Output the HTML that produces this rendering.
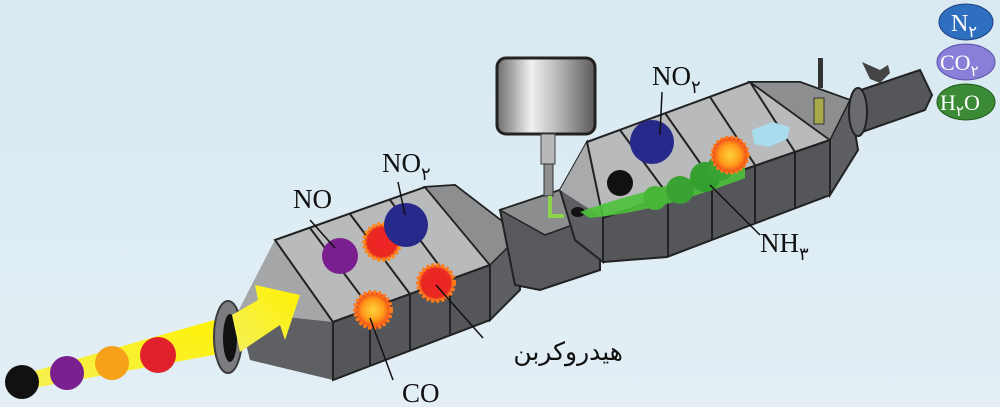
<!DOCTYPE html>
<html><head><meta charset="utf-8"><style>
html,body{margin:0;padding:0;width:1000px;height:407px;overflow:hidden;background:#dcebf3}
svg{display:block}
text{font-family:"Liberation Serif","Noto Serif CJK SC",serif;fill:#111}
</style></head><body>
<svg width="1000" height="407" viewBox="0 0 1000 407" xmlns="http://www.w3.org/2000/svg">
<defs>
<linearGradient id="bg" x1="0" y1="0" x2="0" y2="1"><stop offset="0" stop-color="#d8e9f2"/><stop offset="1" stop-color="#e3eff5"/></linearGradient>
<linearGradient id="tank" x1="0" y1="0" x2="1" y2="0"><stop offset="0" stop-color="#6e6e6e"/><stop offset="0.35" stop-color="#f0f0f0"/><stop offset="0.6" stop-color="#bdbdbd"/><stop offset="1" stop-color="#5a5a5a"/></linearGradient>
<linearGradient id="yel" x1="0" y1="1" x2="1" y2="0"><stop offset="0" stop-color="#f4ef5a"/><stop offset="1" stop-color="#fff200"/></linearGradient>
<radialGradient id="fire"><stop offset="0" stop-color="#ffd33a"/><stop offset="0.6" stop-color="#ff9a1a"/><stop offset="1" stop-color="#f0401a"/></radialGradient>
<radialGradient id="redf"><stop offset="0" stop-color="#f0202a"/><stop offset="0.8" stop-color="#e82a20"/><stop offset="1" stop-color="#ff7a20"/></radialGradient>
</defs>
<rect width="1000" height="407" fill="url(#bg)"/>

<polygon points="10,378 12,392 230,352 232,315" fill="url(#yel)"/>
<circle cx="22" cy="382" r="17" fill="#111"/>
<circle cx="67" cy="373" r="17" fill="#7a1f8e"/>
<circle cx="112" cy="363" r="17" fill="#f5a21a"/>
<circle cx="158" cy="355" r="18" fill="#e0202a"/>

<polygon points="238,312 275,240 333,322 333,380 250,360" fill="#5f6063"/>
<polygon points="238,312 275,240 333,322" fill="#a5a6a8"/>
<ellipse cx="228" cy="337" rx="14" ry="36" fill="#7b7c7f" stroke="#3c3c3e" stroke-width="2"/>
<ellipse cx="230" cy="338" rx="7" ry="24" fill="#111"/>
<polygon points="275,240 425,187 490,265 333,322" fill="#b9babc" stroke="#222" stroke-width="2"/>
<polygon points="333,322 490,265 490,320 333,380" fill="#55565a" stroke="#222" stroke-width="2"/>
<g stroke="#222" stroke-width="2">
<line x1="310" y1="228" x2="370" y2="308"/><line x1="350" y1="214" x2="410" y2="294"/><line x1="390" y1="200" x2="450" y2="280"/>
<line x1="370" y1="308" x2="370" y2="366"/><line x1="410" y1="294" x2="410" y2="351"/><line x1="450" y1="280" x2="450" y2="336"/>
</g>
<polygon points="425,187 455,185 520,235 520,290 490,320 490,265" fill="#5e5f62" stroke="#222" stroke-width="2"/>
<polygon points="425,187 455,185 520,235 490,265" fill="#8d8e90" stroke="#222" stroke-width="1.5"/>

<polygon points="500,210 560,190 600,215 600,270 540,290 515,285" fill="#58595c" stroke="#222" stroke-width="2"/>
<polygon points="500,210 560,190 600,215 545,235" fill="#8c8d8f" stroke="#222" stroke-width="1.5"/>

<polygon points="560,190 587,142 603,218 603,262 575,240" fill="#5e5f62" stroke="#222" stroke-width="2"/>
<polygon points="560,190 587,142 603,218" fill="#a9aaac"/>
<polygon points="587,142 750,82 830,140 603,218" fill="#b9babc" stroke="#222" stroke-width="2"/>
<polygon points="603,218 830,140 830,195 667,257 603,262" fill="#55565a" stroke="#222" stroke-width="2"/>
<g stroke="#222" stroke-width="2">
<line x1="620" y1="130" x2="668" y2="195"/><line x1="665" y1="113" x2="712" y2="180"/><line x1="710" y1="97" x2="755" y2="165"/><line x1="750" y1="82" x2="795" y2="152"/>
<line x1="668" y1="195" x2="668" y2="257"/><line x1="712" y1="180" x2="712" y2="240"/><line x1="755" y1="165" x2="755" y2="224"/><line x1="795" y1="152" x2="795" y2="208"/>
</g>
<polygon points="750,82 800,82 850,100 858,150 830,195 830,140" fill="#5e5f62" stroke="#222" stroke-width="2"/>
<polygon points="750,82 800,82 850,100 830,140" fill="#8d8e90" stroke="#222" stroke-width="1.5"/>
<polygon points="855,92 920,70 932,95 925,110 862,132" fill="#55565a" stroke="#222" stroke-width="2"/>
<ellipse cx="858" cy="112" rx="9" ry="24" fill="#6a6b6e" stroke="#222" stroke-width="2"/>
<rect x="818" y="58" width="5" height="30" fill="#333"/>
<rect x="814" y="98" width="10" height="26" fill="#a6a84a" stroke="#333"/>
<path d="M862,62 l18,8 l8,-5 l2,8 l-10,10 l-10,-4z" fill="#444"/>

<rect x="497" y="58" width="98" height="76" rx="9" fill="url(#tank)" stroke="#222" stroke-width="3"/>
<rect x="541" y="134" width="14" height="30" fill="#b8b8b8" stroke="#444"/>
<rect x="544" y="164" width="9" height="32" fill="#8f8f8f" stroke="#333"/>
<path d="M550,196 v20 h14" fill="none" stroke="#8ed44a" stroke-width="4"/>
<ellipse cx="578" cy="212" rx="7" ry="5" fill="#111"/>

<path d="M580,212 C610,200 650,192 700,175 L745,155 L745,178 C700,195 650,212 590,218z" fill="#4cc23a" opacity="0.9"/>
<circle cx="655" cy="198" r="12" fill="#49b63a"/><circle cx="680" cy="190" r="14" fill="#3aa232"/><circle cx="705" cy="177" r="15" fill="#34a030"/><circle cx="720" cy="168" r="13" fill="#3aa232"/>
<circle cx="652" cy="142" r="22" fill="#272a8a"/>
<circle cx="620" cy="183" r="13" fill="#111"/>
<circle cx="730" cy="155" r="18" fill="url(#fire)" stroke="#ff7a1a" stroke-width="3" stroke-dasharray="3 2"/>
<path d="M752,130 l20,-8 l18,5 l-3,12 l-18,8 l-15,-3z" fill="#a9dcec"/>

<circle cx="340" cy="256" r="18" fill="#7a1f8e"/>
<circle cx="382" cy="242" r="18" fill="url(#redf)" stroke="#ff8a1a" stroke-width="4" stroke-dasharray="3 2"/>
<circle cx="406" cy="225" r="22" fill="#272a8a"/>
<circle cx="436" cy="283" r="18" fill="url(#redf)" stroke="#ff7a1a" stroke-width="4" stroke-dasharray="3 2"/>
<circle cx="373" cy="310" r="18" fill="url(#fire)" stroke="#ff7a1a" stroke-width="4" stroke-dasharray="3 2"/>

<polygon points="232,315 258,300 255,285 300,295 285,340 280,325 240,352" fill="url(#yel)"/>

<g stroke="#111" stroke-width="1.5">
<line x1="310" y1="220" x2="335" y2="248"/>
<line x1="398" y1="182" x2="405" y2="215"/>
<line x1="370" y1="318" x2="393" y2="380"/>
<line x1="436" y1="285" x2="483" y2="338"/>
<line x1="662" y1="92" x2="660" y2="135"/>
<line x1="710" y1="185" x2="760" y2="235"/>
</g>

<text x="293" y="208" font-size="27">NO</text>
<text x="382" y="172" font-size="27">NO<tspan font-size="18" dy="8">۲</tspan></text>
<text x="402" y="402" font-size="27">CO</text>
<text x="623" y="360" font-size="25" direction="rtl" text-anchor="start" style="font-family:'DejaVu Sans',sans-serif">هیدروکربن</text>
<text x="652" y="85" font-size="27">NO<tspan font-size="18" dy="8">۲</tspan></text>
<text x="760" y="252" font-size="27">NH<tspan font-size="18" dy="8">۳</tspan></text>

<ellipse cx="966" cy="22" rx="27" ry="18" fill="#2f6fc0" stroke="#1d3f80"/>
<text x="951" y="31" font-size="24" style="fill:#fff">N<tspan font-size="16" dy="6" style="fill:#fff">۲</tspan></text>
<ellipse cx="966" cy="62" rx="29" ry="18" fill="#8a7fd8" stroke="#5b4fa8"/>
<text x="940" y="70" font-size="22" style="fill:#fff">CO<tspan font-size="15" dy="6" style="fill:#fff">۲</tspan></text>
<ellipse cx="966" cy="102" rx="29" ry="18" fill="#3a8a36" stroke="#1f5a1d"/>
<text x="940" y="110" font-size="22" style="fill:#fff">H<tspan font-size="15" dy="6" style="fill:#fff">۲</tspan><tspan dy="-6" style="fill:#fff">O</tspan></text>
</svg>
</body></html>
